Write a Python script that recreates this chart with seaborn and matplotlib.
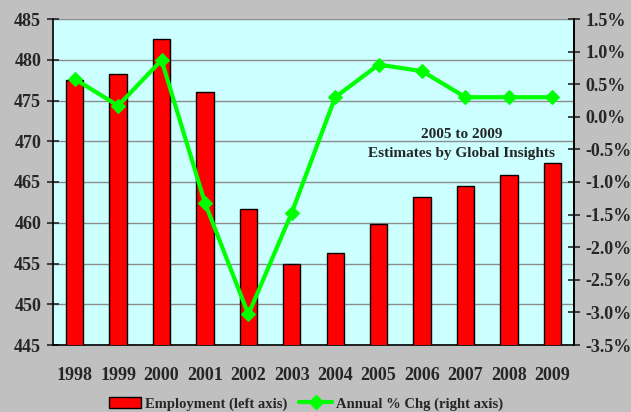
import numpy as np
import pandas as pd
import matplotlib
matplotlib.use("Agg")
import matplotlib.pyplot as plt
import seaborn as sns
from matplotlib.patches import Patch
from matplotlib.lines import Line2D
from matplotlib.ticker import FuncFormatter, MultipleLocator

years = ["1998", "1999", "2000", "2001", "2002", "2003", "2004", "2005", "2006", "2007", "2008", "2009"]
employment = [477.5, 478.3, 482.5, 476.1, 461.7, 454.9, 456.3, 459.9, 463.1, 464.5, 465.9, 467.3]
pct_change = [0.58, 0.17, 0.87, -1.32, -3.03, -1.47, 0.30, 0.80, 0.70, 0.30, 0.30, 0.30]

sns.set_style("white")
plt.rcParams["font.family"] = ["Liberation Serif", "DejaVu Serif"]
plt.rcParams["font.weight"] = "bold"

fig = plt.figure(figsize=(6.31, 4.12), dpi=100, facecolor="#c0c0c0")
ax = fig.add_axes([53/631, 1 - 345/412, (574-53)/631, (345-19)/412])
ax.set_facecolor("#ccffff")

df = pd.DataFrame({"year": years, "emp": employment, "chg": pct_change})
sns.barplot(data=df, x="year", y="emp", color="#ff0000", edgecolor="black",
            linewidth=1.0, width=0.4, saturation=1, ax=ax, zorder=3)
ax.set_ylim(445, 485)
ax.yaxis.set_major_locator(MultipleLocator(5))
ax.grid(axis="y", color="#8c8c8c", linewidth=1.0, zorder=0)
ax.set_axisbelow(True)
ax.set_xlim(-0.5, len(years) - 0.5)
ax.set_xlabel("")
ax.set_ylabel("")

for s in ["left", "bottom", "right"]:
    ax.spines[s].set_color("black")
    ax.spines[s].set_linewidth(1.2)
ax.spines["top"].set_visible(False)

ax.tick_params(axis="x", which="major", length=0, pad=16, labelsize=13)
ax.set_xticks(np.arange(-0.5, len(years) + 0.5, 1), minor=True)
ax.tick_params(axis="x", which="minor", length=9, direction="inout", width=1.2, color="black")
ax.tick_params(axis="y", length=9, direction="inout", width=1.2, labelsize=13, pad=4, left=True)
for lab in ax.get_xticklabels() + ax.get_yticklabels():
    lab.set_fontweight("bold")

ax2 = ax.twinx()
sns.lineplot(x=np.arange(len(years)), y=df["chg"], ax=ax2, color="#00ff00",
             linewidth=3, marker="D", markersize=7, markeredgecolor="#00ff00", zorder=5)
ax2.set_ylim(-3.5, 1.5)
ax2.yaxis.set_major_locator(MultipleLocator(0.5))
ax2.yaxis.set_major_formatter(FuncFormatter(lambda v, p: f"{v:.1f}%"))
ax2.set_ylabel("")
ax2.tick_params(axis="y", length=9, direction="inout", width=1.2, labelsize=13, pad=4, right=True)
for lab in ax2.get_yticklabels():
    lab.set_fontweight("bold")
for s in ["left", "top", "bottom"]:
    ax2.spines[s].set_visible(False)
ax2.spines["right"].set_color("black")
ax2.spines["right"].set_linewidth(1.2)
ax2.grid(False)

ax2.text(0.785, 0.617, "2005 to 2009\nEstimates by Global Insights", transform=ax.transAxes,
         ha="center", va="center", fontsize=11, fontweight="bold", linespacing=1.55)

handles = [Patch(facecolor="#ff0000", edgecolor="black", label="Employment (left axis)"),
           Line2D([0], [0], color="#00ff00", linewidth=3, marker="D", markersize=7,
                  label="Annual % Chg (right axis)")]
fig.legend(handles=handles, loc="center", bbox_to_anchor=(306/631, 1 - 404/412), ncol=2,
           frameon=False, prop={"weight": "bold", "size": 10.5}, handlelength=2.2,
           columnspacing=0.8, handletextpad=0.3)

fig.savefig("out.png", dpi=100, facecolor=fig.get_facecolor())
